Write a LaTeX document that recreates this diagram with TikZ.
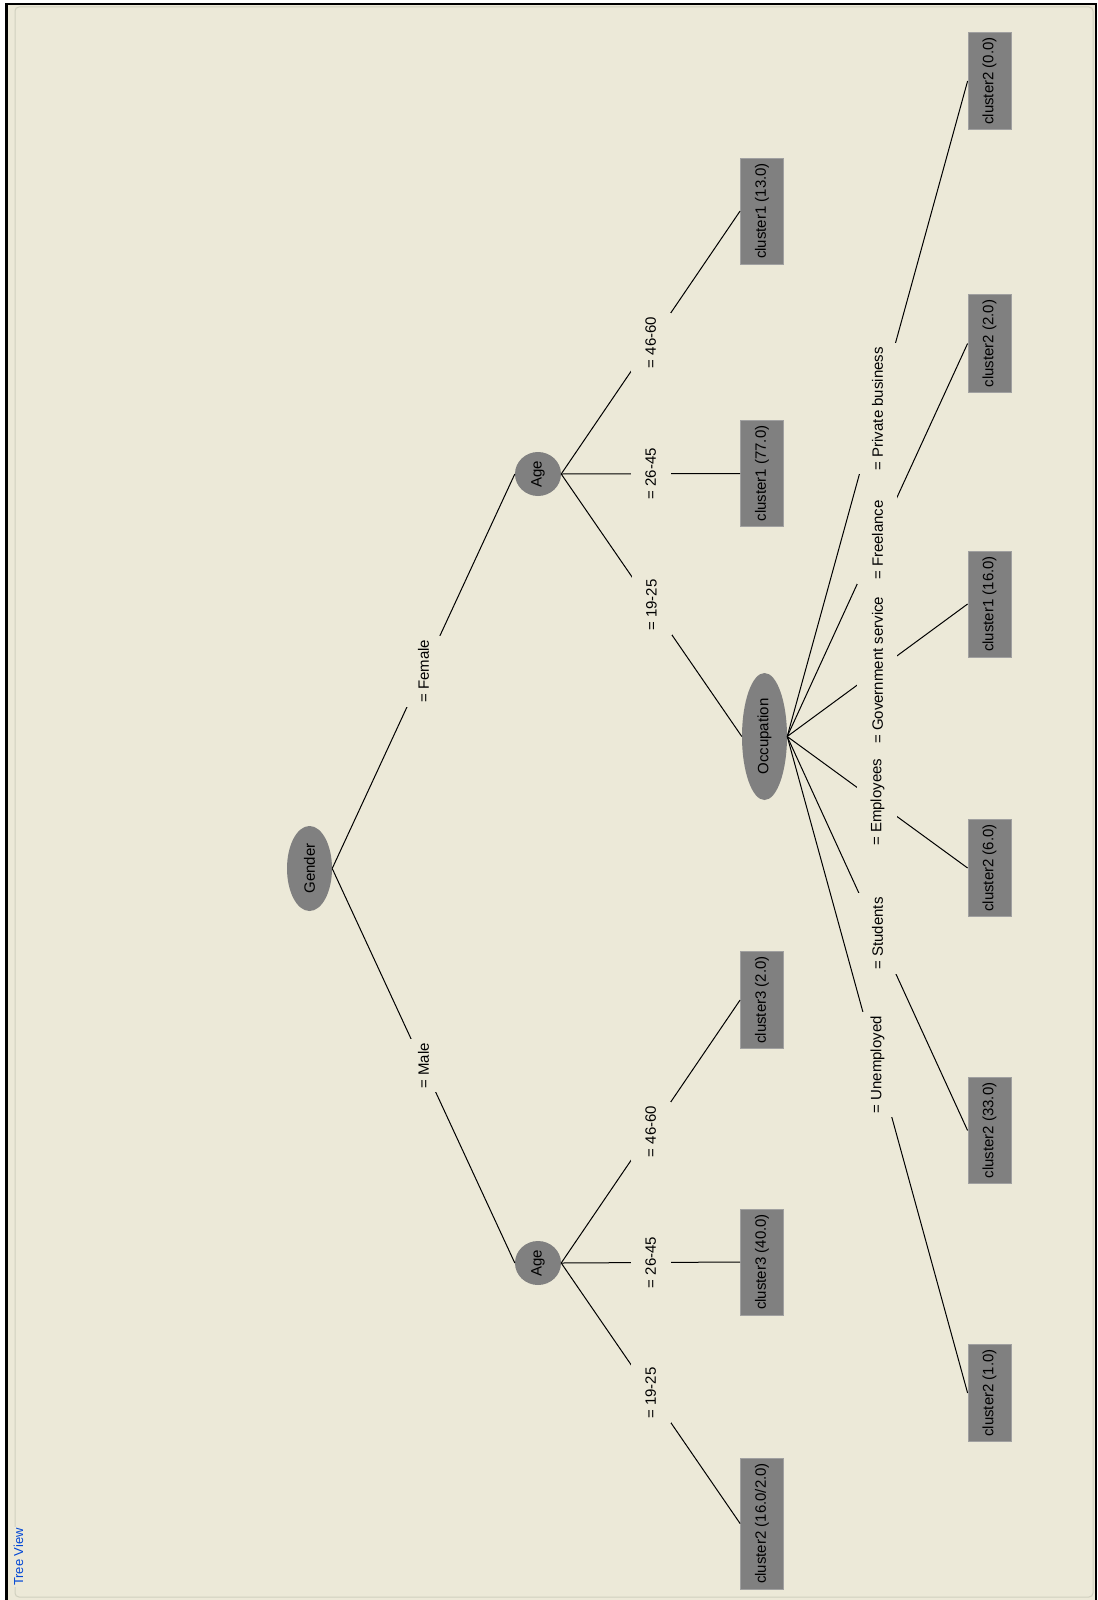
\documentclass[tikz,border=0pt]{standalone}
\usepackage{fontspec}
\setmainfont{Liberation Sans}
\usepackage{graphicx}
\usepackage{xcolor}
\usetikzlibrary{shapes.geometric}
\definecolor{panelbg}{HTML}{ECE9D8}
\definecolor{nodegray}{HTML}{808080}
\definecolor{framegray}{HTML}{D0D0BF}
\definecolor{titleblue}{HTML}{0046D5}
\newcommand{\vtext}[1]{\rotatebox{90}{#1}}
\newcommand{\treefont}{\fontsize{15}{15}\selectfont}

\tikzset{
  split/.style={shape=ellipse, fill=nodegray, inner sep=0pt, font=\treefont},
  leaf/.style={fill=nodegray, draw=nodegray!75!white, line width=0.8pt,
               minimum width=43pt, inner xsep=0pt, inner ysep=5pt, font=\treefont},
  branch/.style={fill=panelbg, minimum width=40pt, inner xsep=0pt, inner ysep=4pt, font=\treefont},
  edge/.style={draw=black, line width=1pt}
}

\begin{document}
\begin{tikzpicture}[x=1pt, y=-1pt]
  \useasboundingbox (0,0) rectangle (1097,1600);
  % window frame
  \fill[white] (0,0) rectangle (1097,1600);
  \fill[panelbg] (5,3) rectangle (1097,1600);
  \fill[black] (5,3) rectangle (7.5,1600);
  \fill[black] (5,3) rectangle (1097,5.5);
  \fill[black] (1094.5,3) rectangle (1097,1600);
  \draw[framegray, line width=1pt, rounded corners=4pt] (15,7) rectangle (1093,1597);
  \node[fill=panelbg, inner sep=1pt, text=titleblue, font=\fontsize{13}{13}\selectfont]
    (title) at (18.5,1557) {\vtext{Tree View}};

  % split nodes
  \node[split, minimum width=45pt, minimum height=85pt] (gender) at (309.5,868.5) {\vtext{Gender}};
  \node[split, minimum width=46pt, minimum height=44pt] (agef) at (538,474) {\vtext{Age}};
  \node[split, minimum width=46pt, minimum height=44pt] (agem) at (538,1263) {\vtext{Age}};
  \node[split, minimum width=45pt, minimum height=127pt] (occ) at (764.5,736.5) {\vtext{Occupation}};

  % leaves
  \node[leaf] (leafA) at (762,211) {\vtext{cluster1 (13.0)}};
  \node[leaf] (leafB) at (762,473.5) {\vtext{cluster1 (77.0)}};
  \node[leaf] (leafC) at (762,1000) {\vtext{cluster3 (2.0)}};
  \node[leaf] (leafD) at (762,1262) {\vtext{cluster3 (40.0)}};
  \node[leaf] (leafE) at (762,1523.5) {\vtext{cluster2 (16.0/2.0)}};
  \node[leaf] (occA) at (989.5,81) {\vtext{cluster2 (0.0)}};
  \node[leaf] (occB) at (989.5,343.5) {\vtext{cluster2 (2.0)}};
  \node[leaf] (occC) at (989.5,604) {\vtext{cluster1 (16.0)}};
  \node[leaf] (occD) at (989.5,868) {\vtext{cluster2 (6.0)}};
  \node[leaf] (occE) at (989.5,1130.5) {\vtext{cluster2 (33.0)}};
  \node[leaf] (occF) at (989.5,1393) {\vtext{cluster2 (1.0)}};

  % branches
  \draw[edge] (gender.east) -- node[branch] {\vtext{= Female}} (agef.west);
  \draw[edge] (gender.east) -- node[branch] {\vtext{= Male}} (agem.west);
  \draw[edge] (agef.east) -- node[branch] {\vtext{= 46-60}} (leafA.west);
  \draw[edge] (agef.east) -- node[branch] {\vtext{= 26-45}} (leafB.west);
  \draw[edge] (agef.east) -- node[branch] {\vtext{= 19-25}} (occ.west);
  \draw[edge] (agem.east) -- node[branch] {\vtext{= 46-60}} (leafC.west);
  \draw[edge] (agem.east) -- node[branch] {\vtext{= 26-45}} (leafD.west);
  \draw[edge] (agem.east) -- node[branch] {\vtext{= 19-25}} (leafE.west);
  \draw[edge] (occ.east) -- node[branch] {\vtext{= Private business}} (occA.west);
  \draw[edge] (occ.east) -- node[branch] {\vtext{= Freelance}} (occB.west);
  \draw[edge] (occ.east) -- node[branch] {\vtext{= Government service}} (occC.west);
  \draw[edge] (occ.east) -- node[branch] {\vtext{= Employees}} (occD.west);
  \draw[edge] (occ.east) -- node[branch] {\vtext{= Students}} (occE.west);
  \draw[edge] (occ.east) -- node[branch] {\vtext{= Unemployed}} (occF.west);
\end{tikzpicture}
\end{document}
